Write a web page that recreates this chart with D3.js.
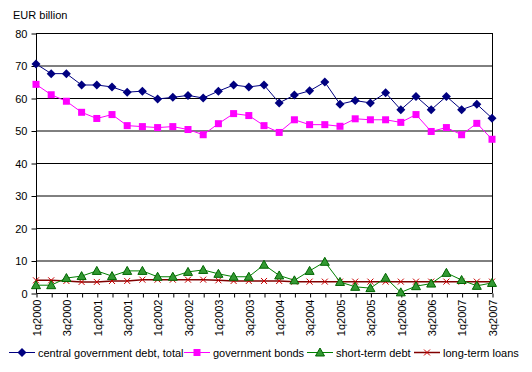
<!DOCTYPE html>
<html>
<head>
<meta charset="utf-8">
<script src="https://cdn.jsdelivr.net/npm/d3@7.9.0/dist/d3.min.js"></script>
<style>
  body { margin: 0; background: #fff; }
  svg { display: block; font-family: "Liberation Sans", Arial, sans-serif; }
</style>
</head>
<body>
<svg id="chart" width="532" height="372"></svg>
<script>
const quarters = [];
for (let yr = 2000; yr <= 2007; yr++) {
  for (let q = 1; q <= 4; q++) {
    if (yr === 2007 && q > 3) break;
    quarters.push(`${q}q${yr}`);
  }
}

const totalDebt = [70.5, 67.5, 67.5, 64.0, 64.0, 63.4, 61.8, 62.1, 59.7, 60.2, 60.8, 60.0,
  62.1, 64.0, 63.4, 64.0, 58.5, 60.9, 62.2, 64.9, 58.1, 59.2, 58.5, 61.6, 56.4, 60.5, 56.4,
  60.5, 56.4, 58.1, 53.8];
const bonds = [64.2, 61.0, 59.0, 55.6, 53.7, 54.9, 51.5, 51.2, 50.9, 51.2, 50.3, 48.7,
  52.1, 55.2, 54.6, 51.5, 49.4, 53.3, 51.8, 51.8, 51.3, 53.6, 53.3, 53.3, 52.5, 54.9, 49.7,
  50.9, 48.7, 52.2, 47.3];
const shortTerm = [2.4, 2.4, 4.6, 5.2, 6.8, 5.2, 6.8, 6.8, 5.0, 5.0, 6.5, 7.1,
  5.9, 5.0, 5.0, 8.7, 5.4, 3.9, 6.8, 9.6, 3.4, 1.9, 1.5, 4.7, 0.2, 2.1, 2.9,
  6.2, 4.0, 2.2, 3.1];
const longTerm = [3.9, 3.9, 3.7, 3.4, 3.4, 3.7, 3.7, 4.1, 4.1, 4.1, 4.1, 4.1,
  3.9, 3.7, 3.7, 3.7, 3.7, 3.5, 3.5, 3.5, 3.5, 3.5, 3.5, 3.5, 3.5, 3.5, 3.5,
  3.5, 3.5, 3.5, 3.5];
const yTicks = [0, 10, 20, 30, 40, 50, 60, 70, 80];

const series = [
  { name: 'central government debt, total', values: totalDebt, color: '#000080', marker: 'diamond' },
  { name: 'government bonds', values: bonds, color: '#ff00ff', marker: 'square' },
  { name: 'short-term debt', values: shortTerm, color: '#008000', marker: 'triangle' },
  { name: 'long-term loans', values: longTerm, color: '#800000', marker: 'cross' }
];

const svg = d3.select('#chart');
const plot = { left: 36, right: 492, top: 33, bottom: 293 };

const x = d3.scalePoint().domain(quarters).range([plot.left, plot.right]);
const y = d3.scaleLinear().domain([0, 80]).range([plot.bottom, plot.top]);

// gridlines
svg.append('g')
  .selectAll('line')
  .data(yTicks.slice(1))
  .join('line')
  .attr('x1', plot.left).attr('x2', plot.right)
  .attr('y1', d => y(d) + 0.5).attr('y2', d => y(d) + 0.5)
  .attr('stroke', '#000');

// right border
svg.append('line')
  .attr('x1', plot.right + 0.5).attr('x2', plot.right + 0.5)
  .attr('y1', plot.top).attr('y2', plot.bottom)
  .attr('stroke', '#000');

// y axis
const yAxis = svg.append('g')
  .attr('transform', `translate(${plot.left + 0.5},0.5)`)
  .call(d3.axisLeft(y).tickValues(yTicks).tickSize(5).tickPadding(4));
yAxis.select('.domain').attr('d', `M0,${plot.top}V${plot.bottom}`);
yAxis.selectAll('text').attr('font-size', 11).attr('fill', '#000')
  .attr('font-family', '"Liberation Sans", Arial, sans-serif');

// x axis
const xAxis = svg.append('g')
  .attr('transform', `translate(0.5,${plot.bottom + 0.5})`)
  .call(d3.axisBottom(x).tickSize(4).tickSizeOuter(0)
    .tickFormat((d, i) => i % 2 === 0 ? d : ''));
xAxis.select('.domain').attr('d', `M${plot.left},0H${plot.right}`);
xAxis.selectAll('text')
  .attr('font-size', 11).attr('fill', '#000')
  .attr('font-family', '"Liberation Sans", Arial, sans-serif')
  .attr('transform', 'rotate(-90)')
  .attr('text-anchor', 'end')
  .attr('x', -6).attr('y', 0).attr('dy', '0.35em');

// y title
svg.append('text')
  .attr('x', 13).attr('y', 19)
  .attr('font-size', 11)
  .text('EUR billion');

function drawMarker(g, type, color) {
  if (type === 'diamond') {
    g.append('path').attr('d', 'M0,-4.5L4.5,0L0,4.5L-4.5,0Z').attr('fill', color);
  } else if (type === 'square') {
    g.append('rect').attr('x', -3.5).attr('y', -3.5).attr('width', 7).attr('height', 7).attr('fill', color);
  } else if (type === 'triangle') {
    g.append('path').attr('d', 'M0,-4.5L4.5,3.5L-4.5,3.5Z')
      .attr('fill', '#339933').attr('stroke', '#006600').attr('stroke-width', 1);
  } else {
    g.append('path').attr('d', 'M-3,-3L3,3M-3,3L3,-3')
      .attr('stroke', '#cc0000').attr('stroke-width', 1).attr('fill', 'none');
  }
}

const line = d3.line().x((d, i) => x(quarters[i])).y(d => y(d));

// draw in reverse so total is on top
[...series].reverse().forEach(s => {
  svg.append('path')
    .datum(s.values)
    .attr('d', line)
    .attr('fill', 'none')
    .attr('stroke', s.color)
    .attr('stroke-width', s.marker === 'cross' ? 1.5 : 1);
  s.values.forEach((v, i) => {
    const g = svg.append('g').attr('transform', `translate(${x(quarters[i])},${y(v)})`);
    drawMarker(g, s.marker, s.color);
  });
});

// legend
const legendX = [9, 184, 307, 414];
series.forEach((s, i) => {
  const g = svg.append('g').attr('transform', `translate(${legendX[i]},352)`);
  g.append('line').attr('x1', 0).attr('x2', 26).attr('y1', 0.5).attr('y2', 0.5)
    .attr('stroke', s.color).attr('stroke-width', s.marker === 'cross' ? 1.5 : 1);
  const m = g.append('g').attr('transform', 'translate(13,0.5)');
  drawMarker(m, s.marker, s.color);
  g.append('text').attr('x', 29).attr('y', 4.5).attr('font-size', 11).text(s.name);
});
</script>
</body>
</html>
